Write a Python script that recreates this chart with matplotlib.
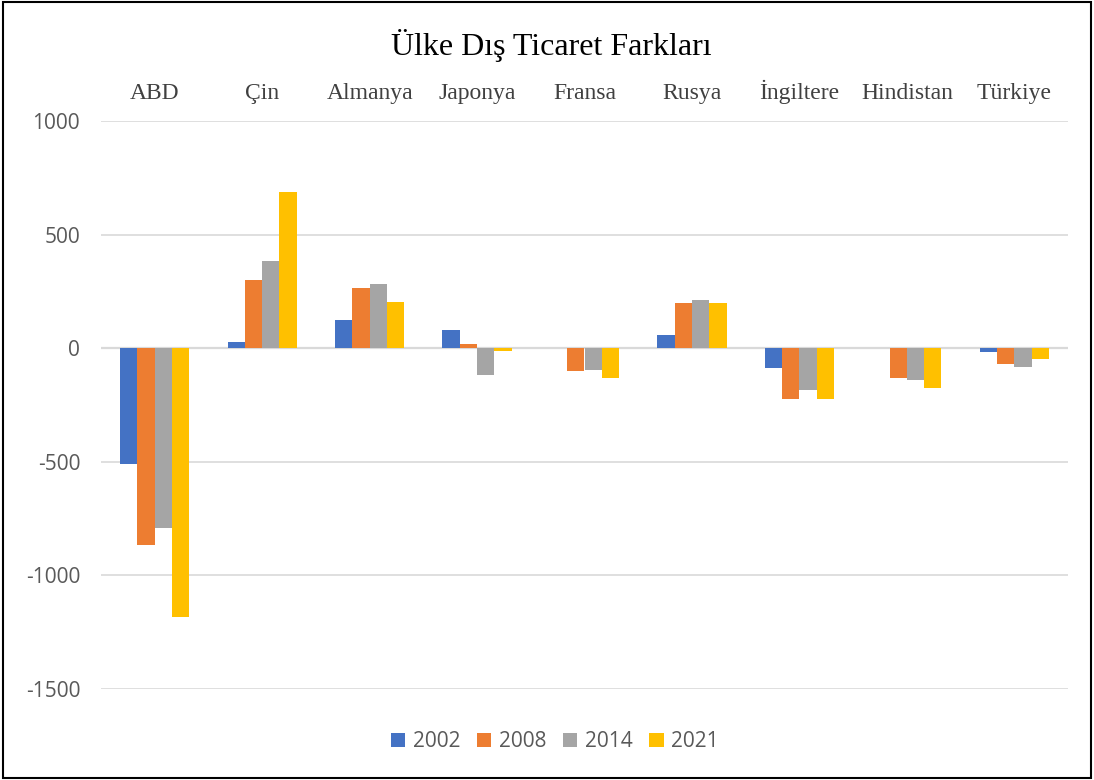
import matplotlib.pyplot as plt
from matplotlib.patches import Rectangle
import numpy as np

countries = ["ABD", "Çin", "Almanya", "Japonya", "Fransa", "Rusya", "İngiltere", "Hindistan", "Türkiye"]
years = ["2002", "2008", "2014", "2021"]
v2002 = [-510, 28, 123, 80, 0, 60, -85, 0, -15]
v2008 = [-865, 300, 263, 17, -100, 198, -222, -133, -68]
v2014 = [-790, 382, 282, -120, -97, 211, -183, -142, -82]
v2021 = [-1185, 686, 203, -12, -130, 198, -222, -176, -46]
colors = ["#4472C4", "#ED7D31", "#A5A5A5", "#FFC000"]
yticks = [1000, 500, 0, -500, -1000, -1500]

fig = plt.figure(figsize=(10.94, 7.80), dpi=100)
ax = fig.add_axes([101 / 1094, 91 / 780, 967 / 1094, 568 / 780])

x = np.arange(len(countries))
w = 0.161
series = [v2002, v2008, v2014, v2021]
for i, vals in enumerate(series):
    ax.bar(x + (i - 1.5) * w, vals, width=w, color=colors[i], label=years[i], zorder=3)

ax.set_xlim(-0.5, len(countries) - 0.5)
ax.set_ylim(-1500, 1000)
ax.set_yticks(yticks)
# plain hyphen for negatives, as in the reference
ax.set_yticklabels([str(t) for t in yticks], family="Open Sans", fontsize=15, color="#595959")
ax.grid(axis="y", color="#d9d9d9", linewidth=1.2, zorder=0)
for s in ax.spines.values():
    s.set_visible(False)
ax.axhline(0, color="#d9d9d9", linewidth=1.6, zorder=2)

# country names sit above the plot area
ax.xaxis.tick_top()
ax.set_xticks(x)
ax.set_xticklabels(countries, family="Liberation Serif", fontsize=17, color="#404040")
ax.tick_params(axis="x", length=0, pad=12)
ax.tick_params(axis="y", length=0, pad=15)

fig.text(0.504, 0.942, "Ülke Dış Ticaret Farkları", family="Liberation Serif",
         fontsize=23, ha="center", va="center", color="black")

fig.legend(loc="center", bbox_to_anchor=(0.507, 0.049), ncol=4, frameon=False,
           handlelength=0.7, handleheight=0.7, handletextpad=0.35, columnspacing=0.8,
           prop={"family": "Open Sans", "size": 15}, labelcolor="#595959")

# thin black frame round the whole picture
fig.patches.append(Rectangle((0.003, 0.003), 0.994, 0.994, transform=fig.transFigure,
                             fill=False, edgecolor="black", linewidth=1.5))

fig.savefig("out.png", dpi=100)
